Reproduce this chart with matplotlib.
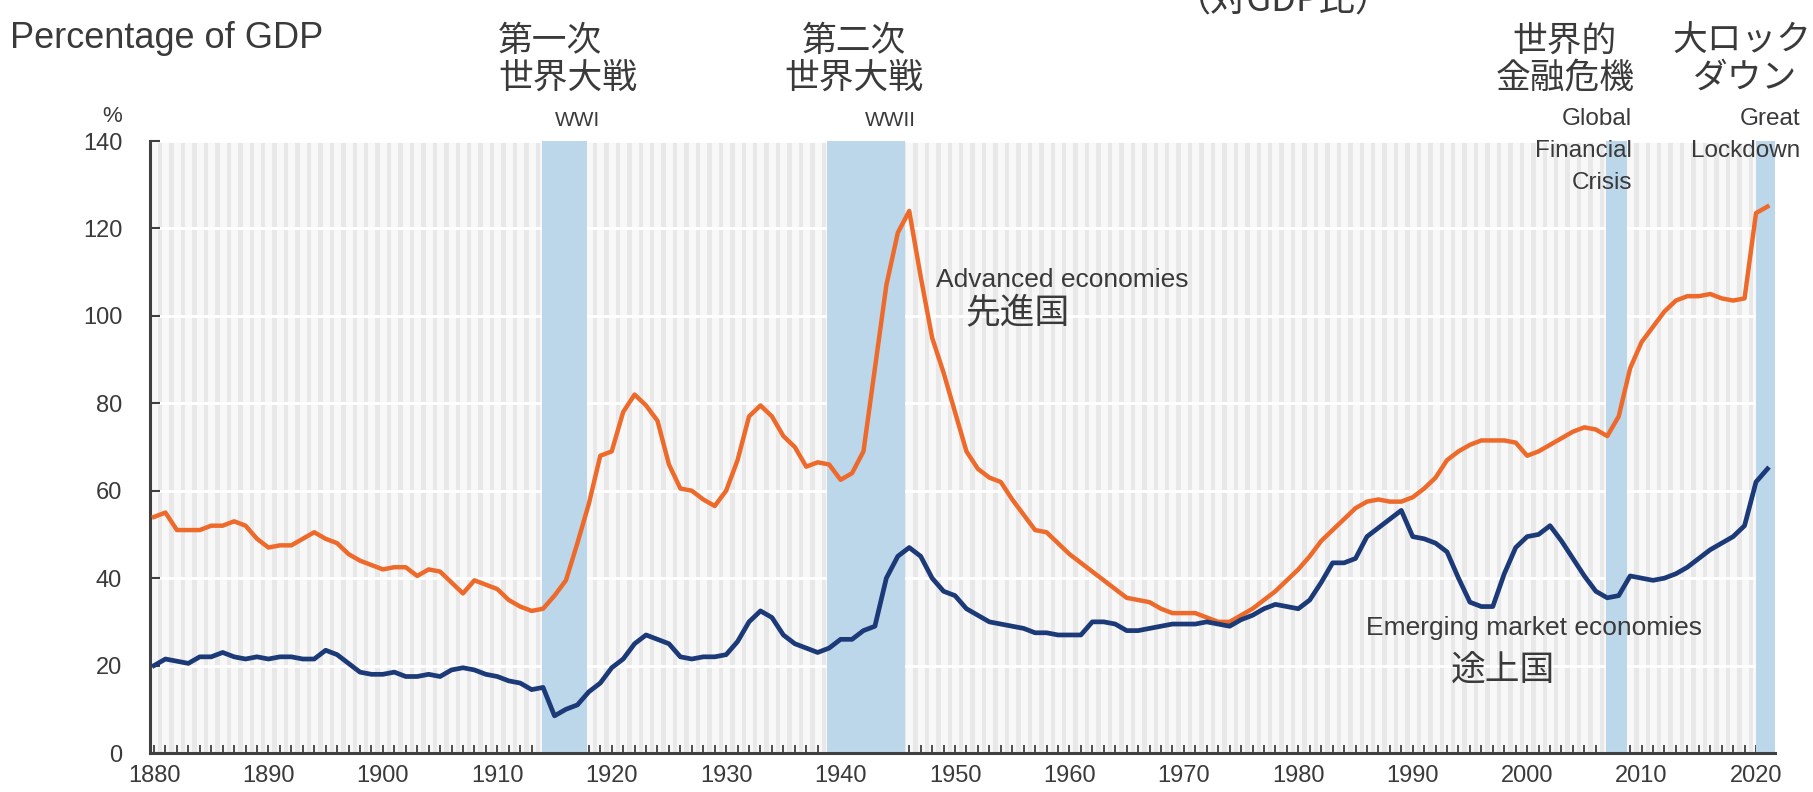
import matplotlib
matplotlib.use("Agg")
import matplotlib.pyplot as plt
from matplotlib.ticker import MultipleLocator

# public debt, percent of GDP, 1880-2021
years = list(range(1880, 2022))
advanced = [
    54, 55, 51, 51, 51, 52, 52, 53, 52, 49,
    47, 47.5, 47.5, 49, 50.5, 49, 48, 45.5, 44, 43,
    42, 42.5, 42.5, 40.5, 42, 41.5, 39, 36.5, 39.5, 38.5,
    37.5, 35, 33.5, 32.5, 33, 36, 39.5, 48, 57, 68,
    69, 78, 82, 79.5, 76, 66, 60.5, 60, 58, 56.5,
    60, 67, 77, 79.5, 77, 72.5, 70, 65.5, 66.5, 66,
    62.5, 64, 69, 88, 107, 119, 124, 109, 95, 87,
    78, 69, 65, 63, 62, 58, 54.5, 51, 50.5, 48,
    45.5, 43.5, 41.5, 39.5, 37.5, 35.5, 35, 34.5, 33, 32,
    32, 32, 31, 30, 30, 31.5, 33, 35, 37, 39.5,
    42, 45, 48.5, 51, 53.5, 56, 57.5, 58, 57.5, 57.5,
    58.5, 60.5, 63, 67, 69, 70.5, 71.5, 71.5, 71.5, 71,
    68, 69, 70.5, 72, 73.5, 74.5, 74, 72.5, 77, 88,
    94, 97.5, 101, 103.5, 104.5, 104.5, 105, 104, 103.5, 104,
    123.5, 125,
]
emerging = [
    20, 21.5, 21, 20.5, 22, 22, 23, 22, 21.5, 22,
    21.5, 22, 22, 21.5, 21.5, 23.5, 22.5, 20.5, 18.5, 18,
    18, 18.5, 17.5, 17.5, 18, 17.5, 19, 19.5, 19, 18,
    17.5, 16.5, 16, 14.5, 15, 8.5, 10, 11, 14, 16,
    19.5, 21.5, 25, 27, 26, 25, 22, 21.5, 22, 22,
    22.5, 25.5, 30, 32.5, 31, 27, 25, 24, 23, 24,
    26, 26, 28, 29, 40, 45, 47, 45, 40, 37,
    36, 33, 31.5, 30, 29.5, 29, 28.5, 27.5, 27.5, 27,
    27, 27, 30, 30, 29.5, 28, 28, 28.5, 29, 29.5,
    29.5, 29.5, 30, 29.5, 29, 30.5, 31.5, 33, 34, 33.5,
    33, 35, 39, 43.5, 43.5, 44.5, 49.5, 51.5, 53.5, 55.5,
    49.5, 49, 48, 46, 40, 34.5, 33.5, 33.5, 41, 47,
    49.5, 50, 52, 48.5, 44.5, 40.5, 37, 35.5, 36, 40.5,
    40, 39.5, 40, 41, 42.5, 44.5, 46.5, 48, 49.5, 52,
    62, 65,
]

# shaded crisis periods
bands = [(1913.9, 1917.8), (1938.8, 1945.6), (2006.9, 2008.7), (2020.0, 2021.7)]
xticks = list(range(1880, 2021, 10))
yticks = list(range(0, 141, 20))

EN = ["Liberation Sans", "DejaVu Sans"]
JP = ["Noto Sans CJK JP", "DejaVu Sans"]
TXT = "#3a3a3a"
ORANGE = "#ee6a2b"
NAVY = "#1c3a78"
BAND = "#bcd6ea"

W, H = 1813, 792
fig = plt.figure(figsize=(W / 100, H / 100), dpi=100)
ax = fig.add_axes([150 / W, 39 / H, 1625 / W, 612 / H])

ax.set_facecolor("#e8e8e8")
ax.set_xlim(1879.65, 2021.66)
ax.set_ylim(0, 140)

for a, b in bands:
    ax.axvspan(a, b, color=BAND, lw=0, zorder=1.5)

ax.plot(years, advanced, color=ORANGE, lw=3.2, zorder=3, solid_joinstyle="round")
ax.plot(years, emerging, color=NAVY, lw=3.4, zorder=3, solid_joinstyle="round")

ax.set_xticks(xticks)
ax.set_yticks(yticks)
ax.xaxis.set_minor_locator(MultipleLocator(1))
ax.grid(which="both", axis="x", color="#f8f8f8", lw=5, zorder=1)
ax.grid(which="major", axis="y", color="white", lw=2, zorder=1)
ax.set_axisbelow(True)

for s in ["top", "right"]:
    ax.spines[s].set_visible(False)
for s in ["left", "bottom"]:
    ax.spines[s].set_color("#404040")
    ax.spines[s].set_linewidth(2.2)

ax.tick_params(axis="x", which="both", direction="in", length=6, width=1.3,
               color="#404040", labelsize=17, labelcolor=TXT, pad=9)
ax.tick_params(axis="y", direction="in", length=7, width=1.5,
               color="#404040", labelsize=17, labelcolor=TXT, pad=20)
for lab in ax.get_xticklabels() + ax.get_yticklabels():
    lab.set_family(EN)


def ftext(x, y, s, size, fam, ha="center"):
    fig.text(x / W, 1 - y / H, s, fontsize=size, family=fam, ha=ha,
             va="center", color=TXT)


ftext(10, 38, "Percentage of GDP", 26, EN, ha="left")
ftext(112, 116, "%", 16, EN)
ftext(1283, 2, "（対GDP比）", 26, JP)

ftext(498, 41, "第一次", 25, JP, ha="left")
ftext(498, 78, "世界大戦", 25, JP, ha="left")
ftext(578, 120, "WWI", 15, EN)

ftext(854, 42, "第二次", 25, JP)
ftext(854, 78, "世界大戦", 25, JP)
ftext(890, 120, "WWII", 15, EN)

ftext(1565, 41, "世界的", 25, JP)
ftext(1565, 78, "金融危機", 25, JP)
ftext(1632, 119, "Global", 17.5, EN, ha="right")
ftext(1632, 151, "Financial", 17.5, EN, ha="right")
ftext(1632, 183, "Crisis", 17.5, EN, ha="right")

ftext(1742, 41, "大ロック", 25, JP)
ftext(1745, 78, "ダウン", 25, JP)
ftext(1800, 119, "Great", 17.5, EN, ha="right")
ftext(1800, 151, "Lockdown", 17.5, EN, ha="right")

ax.text(1948.3, 108.3, "Advanced economies", fontsize=19, family=EN,
        color=TXT, va="center", ha="left", zorder=4)
ax.text(1950.9, 100.4, "先進国", fontsize=25, family=JP,
        color=TXT, va="center", ha="left", zorder=4)
ax.text(1985.9, 28.6, "Emerging market economies", fontsize=19, family=EN,
        color=TXT, va="center", ha="left", zorder=4)
ax.text(1993.3, 18.8, "途上国", fontsize=25, family=JP,
        color=TXT, va="center", ha="left", zorder=4)

fig.savefig("out.png", dpi=100, facecolor="white")
